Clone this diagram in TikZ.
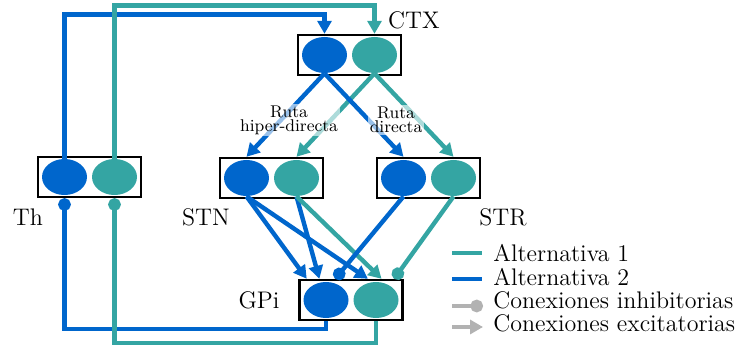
\documentclass[tikz,border=0pt]{standalone}
\usepackage{tikz}
\usetikzlibrary{shapes.geometric,arrows.meta,calc}
\definecolor{azul}{RGB}{0,102,204}
\definecolor{verde}{RGB}{52,165,163}
\definecolor{gris}{RGB}{178,178,178}

\begin{document}
\begin{tikzpicture}[x=0.5pt,y=-0.5pt,
    caja/.style={draw,line width=1.2pt,minimum width=51.5pt,minimum height=20pt,inner sep=0pt},
    elA/.style={ellipse,fill=azul,minimum width=22.5pt,minimum height=18pt,inner sep=0pt},
    elB/.style={elA,fill=verde},
    alt1/.style={verde,line width=2.2pt},
    alt2/.style={azul,line width=2.2pt},
    exc/.style={-{Triangle[length=6.5pt,width=7pt]}},
    inh/.style={-{Circle[length=6.3pt]}},
    etq/.style={font=\large,inner sep=0pt},
    ruta/.style={font=\fontsize{8.5}{7}\selectfont,align=center,fill=white,fill opacity=0.6,text opacity=1,inner sep=1pt}]
    \useasboundingbox (0,0) rectangle (754,346);

    % 方框与两个椭圆
    \foreach \n/\x/\y in {ctx/349.5/55, th/89.5/177, stn/271.5/178, str/428.5/178, gpi/351/300} {
        \node[caja] (\n) at (\x,\y) {};
        \node[elA] (\n-a) at ([xshift=-12.5pt]\n.center) {};
        \node[elB] (\n-b) at ([xshift=12.5pt]\n.center) {};
    }
    \node[etq] (ctxT) at (414,20) {CTX};
    \node[etq] (thT) at (28,217) {Th};
    \node[etq] (stnT) at (206,217) {STN};
    \node[etq] (strT) at (503,217) {STR};
    \node[etq] (gpiT) at (259,300) {GPi};

    % 丘脑 -> 皮层
    \draw[alt2,exc] (th-a.north) -- ++(0,-144) -| (ctx-a |- ctx.north);
    \draw[alt1,exc] (th-b.north) -- ++(0,-153) -| (ctx-b |- ctx.north);
    % 苍白球 -> 丘脑 (抑制)
    \draw[alt2,inh] (gpi-a |- gpi.south) -- ++(0,8) -| (th-a |- th.south);
    \draw[alt1,inh] (gpi-b |- gpi.south) -- ++(0,22) -| (th-b |- th.south);

    % 皮层 -> STN, STR
    \draw[alt2,exc] (ctx-a.south) -- (stn-a |- stn.north);
    \draw[alt1,exc] (ctx-b.south) -- (stn-b |- stn.north);
    \draw[alt2,exc] (ctx-a.south) -- (str-a |- str.north);
    \draw[alt1,exc] (ctx-b.south) -- (str-b |- str.north);

    % STN, STR -> GPi
    \draw[alt2,exc] (stn-a.south) -- ($(gpi.north west)!0.08!(gpi.north east)$);
    \draw[alt2,exc] (stn-a.south) -- ($(gpi.north west)!0.66!(gpi.north east)$);
    \draw[alt2,exc] (stn-b.south) -- ($(gpi.north west)!0.2!(gpi.north east)$);
    \draw[alt1,exc] (stn-b.south) -- ($(gpi.north west)!0.79!(gpi.north east)$);
    \draw[alt2,inh] (str-a.south) -- ($(gpi.north west)!0.35!(gpi.north east)$);
    \draw[alt1,inh] (str-b.south) -- ($(gpi.north west)!0.91!(gpi.north east)$);

    \node[ruta] (hiper) at (289,120) {Ruta\\hiper-directa};
    \node[ruta] (directa) at (396,120) {Ruta\\directa};

    % 图例
    \node[etq,anchor=west] (ley1) at (493,253) {Alternativa 1};
    \node[etq,anchor=west] (ley2) at (493,277) {Alternativa 2};
    \node[etq,anchor=west] (ley3) at (493,300) {Conexiones inhibitorias};
    \node[etq,anchor=west] (ley4) at (493,323) {Conexiones excitatorias};
    \draw[alt1] ([xshift=-20.5pt]ley1.west) -- ([xshift=-5.5pt]ley1.west);
    \draw[alt2] ([xshift=-20.5pt,yshift=-1pt]ley2.west) -- ([xshift=-5.5pt,yshift=-1pt]ley2.west);
    \draw[gris,line width=2.2pt,inh] ([xshift=-20.5pt,yshift=-3pt]ley3.west) -- ([xshift=-5pt,yshift=-3pt]ley3.west);
    \draw[gris,line width=2.2pt,exc] ([xshift=-20.5pt,yshift=-2pt]ley4.west) -- ([xshift=-5pt,yshift=-2pt]ley4.west);
\end{tikzpicture}
\end{document}
